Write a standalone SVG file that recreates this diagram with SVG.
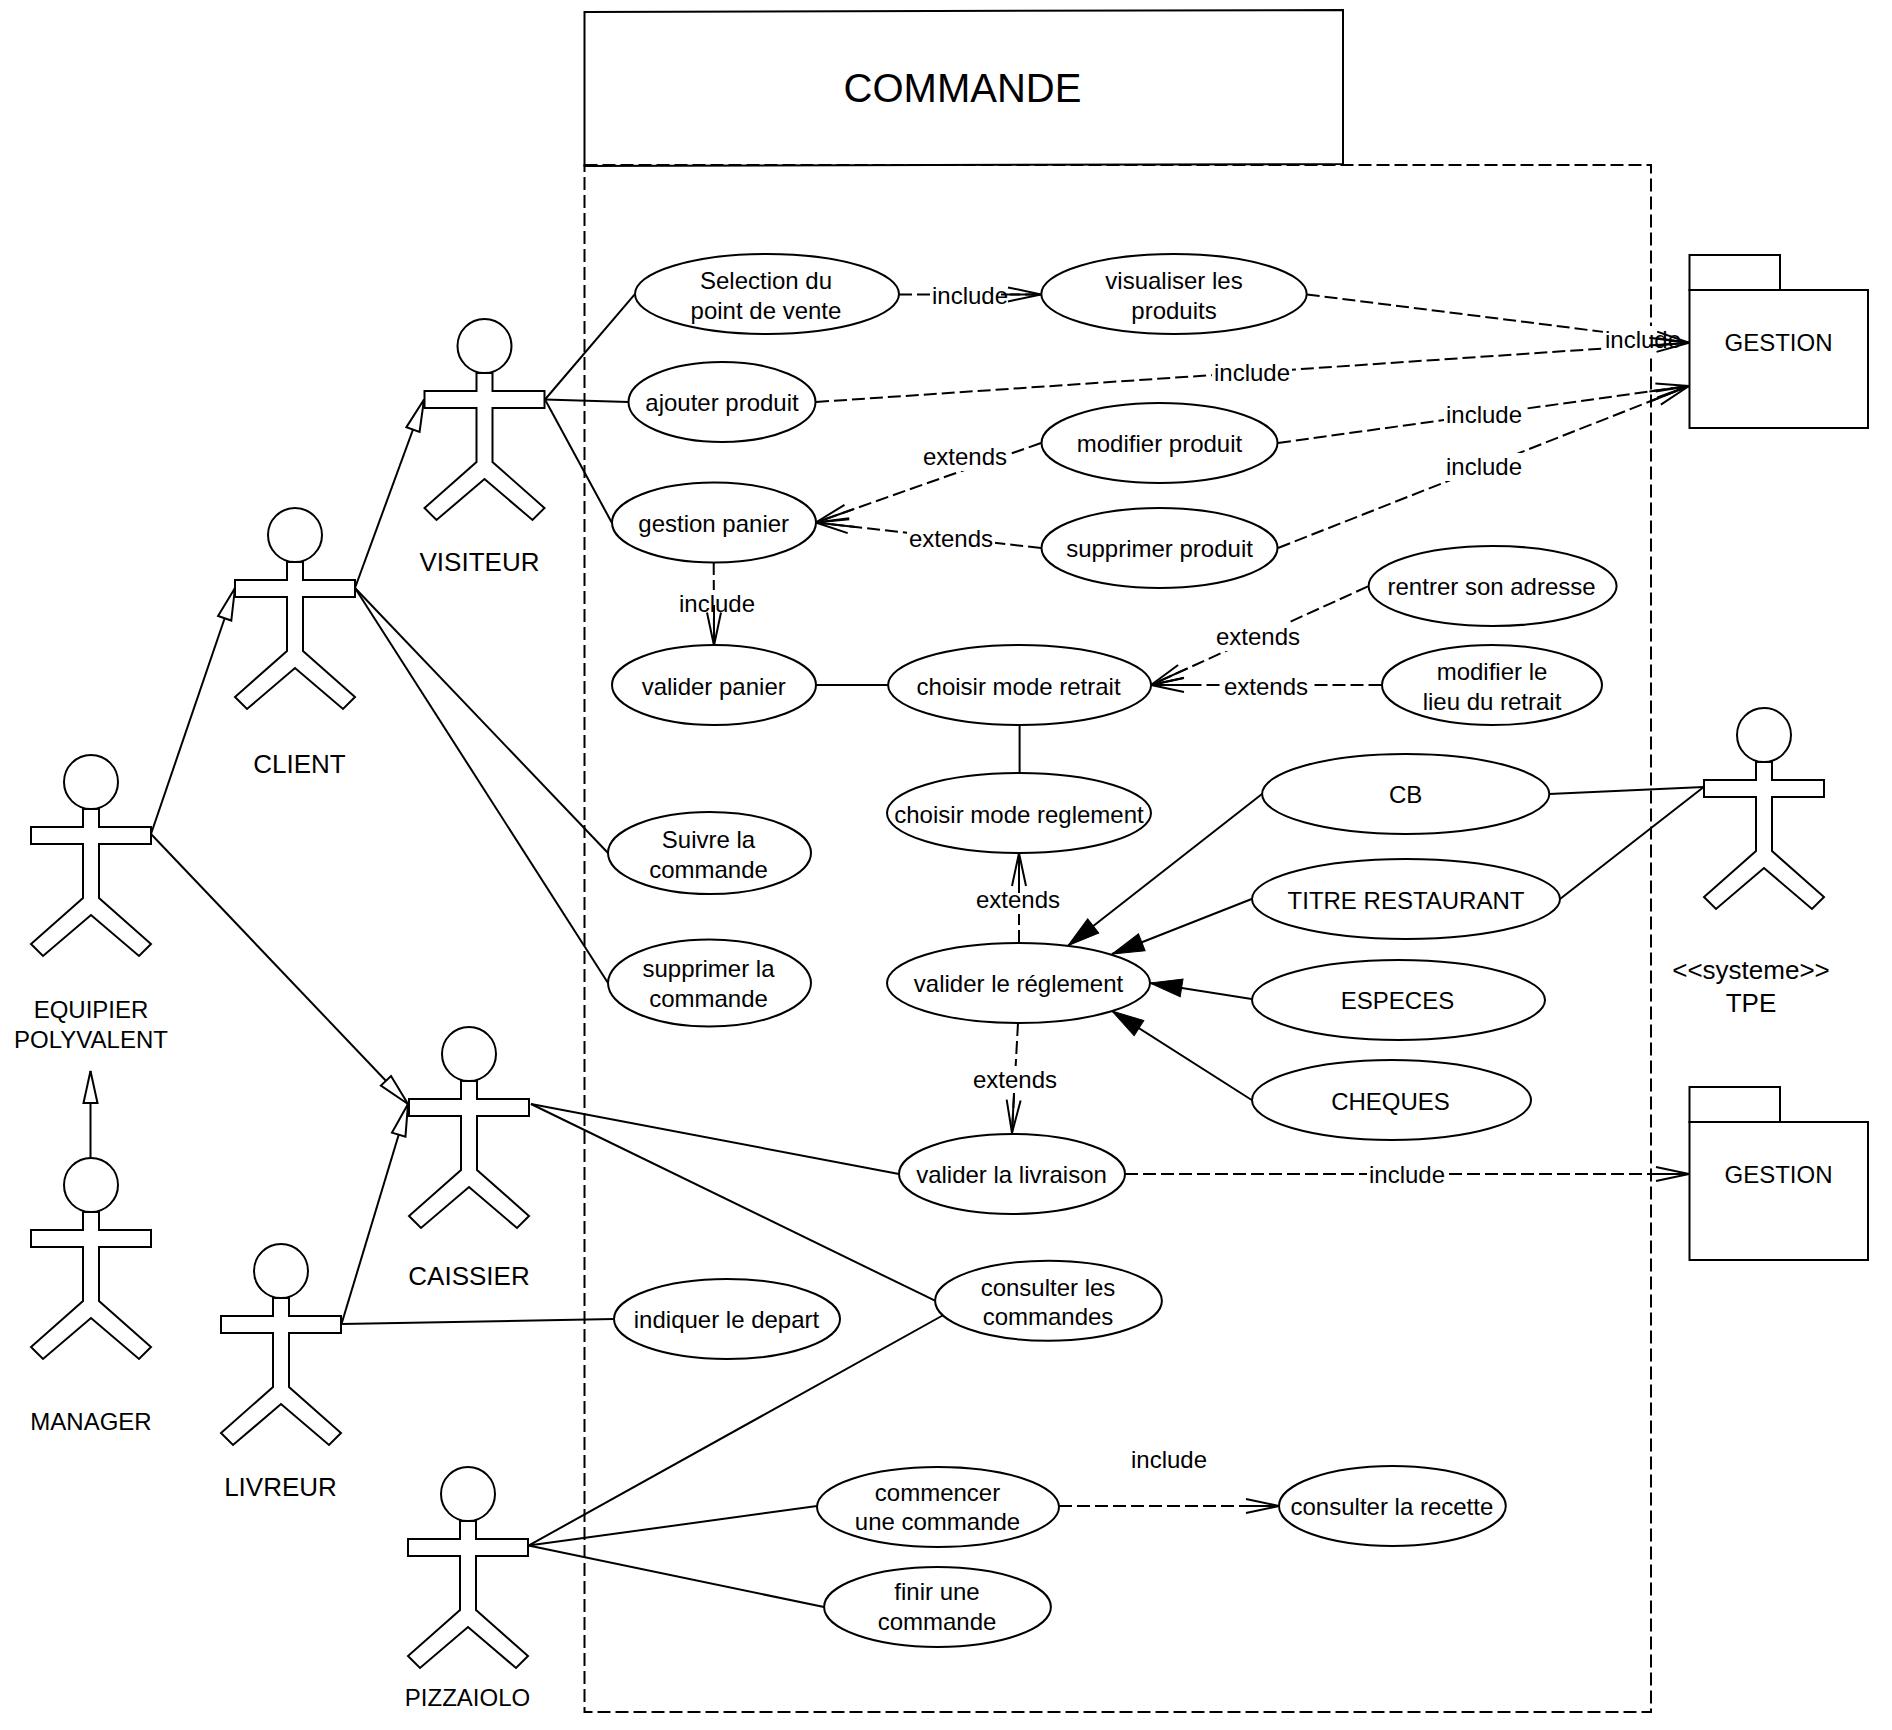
<svg xmlns="http://www.w3.org/2000/svg" xmlns:xlink="http://www.w3.org/1999/xlink" width="1892" height="1730" viewBox="0 0 1892 1730">
<style>
text{font-family:"Liberation Sans",Arial,sans-serif;font-size:24px;fill:#000;text-anchor:middle}
.title{font-size:40px}
.big{font-size:26px}
.s{fill:#fff;stroke:#000;stroke-width:2}
.n{fill:none;stroke:#000;stroke-width:2}
.d{fill:none;stroke:#000;stroke-width:2;stroke-dasharray:13 5}
.w{fill:#fff;stroke:none}
.hollow{marker-end:url(#hollow)}
.filled{marker-end:url(#filled)}
.open{marker-end:url(#open)}
</style>
<defs>
<marker id="hollow" markerUnits="userSpaceOnUse" markerWidth="40" markerHeight="24" refX="33" refY="10" orient="auto" overflow="visible"><path d="M1,3 L33,10 L1,17 Z" fill="#fff" stroke="#000" stroke-width="2"/></marker>
<marker id="filled" markerUnits="userSpaceOnUse" markerWidth="40" markerHeight="24" refX="33" refY="10" orient="auto" overflow="visible"><path d="M1,1 L33,10 L1,19 Z" fill="#000" stroke="#000" stroke-width="1"/></marker>
<marker id="open" markerUnits="userSpaceOnUse" markerWidth="40" markerHeight="24" refX="33" refY="10" orient="auto" overflow="visible"><path d="M0,3 L33,10 L0,17" fill="none" stroke="#000" stroke-width="2"/></marker>
<g id="actor">
<ellipse class="s" cx="0" cy="27" rx="27" ry="27"/>
<path class="s" d="M-8,54 V72 H-60 V89 H-8 V143 L-60,189 L-48,201 L0,160 L48,201 L60,189 L8,143 V89 H60 V72 H8 V54 Z"/>
</g>
</defs>
<rect width="1892" height="1730" fill="#fff"/>
<g id="frame">
<rect x="584.5" y="165" width="1066.5" height="1547" fill="none" stroke="#000" stroke-width="2" stroke-dasharray="13 5"/>
<path class="n" d="M584.5,12 L1343,10 V164 L584.5,166 Z"/>
<text class="title" x="962.5" y="102">COMMANDE</text>
</g>
<g id="connectors">
<line class="n" x1="545" y1="399.5" x2="634.7" y2="294.4"/>
<line class="n" x1="545" y1="399.5" x2="628.6" y2="402"/>
<line class="n" x1="545" y1="399.5" x2="611.7" y2="522.5"/>
<line class="n hollow" x1="355" y1="588" x2="424" y2="399.5"/>
<line class="n" x1="355" y1="588" x2="608" y2="853"/>
<line class="n" x1="355" y1="588" x2="608" y2="983"/>
<line class="n hollow" x1="151" y1="834" x2="235" y2="588"/>
<line class="n hollow" x1="151" y1="834" x2="408" y2="1104"/>
<line class="n hollow" x1="90.5" y1="1158" x2="90.5" y2="1071"/>
<line class="n hollow" x1="341.5" y1="1324" x2="408" y2="1104"/>
<line class="n" x1="341.5" y1="1324" x2="614" y2="1319"/>
<line class="n" x1="531" y1="1104" x2="899" y2="1174"/>
<line class="n" x1="531" y1="1104" x2="935" y2="1300.7"/>
<line class="n" x1="528.5" y1="1545.6" x2="943.5" y2="1315"/>
<line class="n" x1="528.5" y1="1545.6" x2="817" y2="1506"/>
<line class="n" x1="528.5" y1="1545.6" x2="824" y2="1607"/>
<line class="n" x1="816" y1="685" x2="888" y2="685"/>
<line class="n" x1="1019.6" y1="725" x2="1019.6" y2="773"/>
<line class="n filled" x1="1262" y1="794" x2="1068" y2="945.7"/>
<line class="n filled" x1="1251.7" y1="899" x2="1112" y2="954"/>
<line class="n filled" x1="1251.7" y1="999" x2="1150" y2="983"/>
<line class="n filled" x1="1251.7" y1="1100" x2="1112" y2="1011"/>
<line class="n" x1="1549" y1="794" x2="1703.7" y2="787"/>
<line class="n" x1="1560" y1="899" x2="1703.7" y2="787"/>
<line class="d" x1="899" y1="294.4" x2="1041" y2="294.4"/>
<line class="d" x1="1306.7" y1="294.4" x2="1689" y2="342.7"/>
<line class="d" x1="816" y1="402" x2="1689" y2="342.7"/>
<line class="d" x1="1278" y1="443" x2="1689" y2="386"/>
<line class="d" x1="1278" y1="548" x2="1689" y2="386"/>
<line class="d" x1="1041" y1="443" x2="815.7" y2="522.5"/>
<line class="d" x1="1041" y1="548" x2="815.7" y2="522.5"/>
<line class="d" x1="713.7" y1="562" x2="714" y2="645.5"/>
<line class="d" x1="1368" y1="586.4" x2="1151" y2="685"/>
<line class="d" x1="1381.5" y1="685" x2="1151" y2="685"/>
<line class="d" x1="1019" y1="943" x2="1019" y2="853"/>
<line class="d" x1="1018" y1="1023" x2="1012" y2="1133"/>
<line class="d" x1="1125" y1="1174" x2="1689" y2="1174"/>
<line class="d" x1="1059" y1="1506" x2="1279" y2="1506"/>
<g id="connector-labels">
<rect class="w" x="930" y="282" width="80" height="28"/><text x="970" y="304">include</text>
<rect class="w" x="1603" y="326" width="80" height="28"/><text x="1643" y="348">include</text>
<rect class="w" x="1212" y="359" width="80" height="28"/><text x="1252" y="381">include</text>
<rect class="w" x="1444" y="401" width="80" height="28"/><text x="1484" y="423">include</text>
<rect class="w" x="1444" y="453" width="80" height="28"/><text x="1484" y="475">include</text>
<rect class="w" x="921" y="443" width="88" height="28"/><text x="965" y="465">extends</text>
<rect class="w" x="907" y="525" width="88" height="28"/><text x="951" y="547">extends</text>
<rect class="w" x="677" y="590" width="80" height="28"/><text x="717" y="612">include</text>
<rect class="w" x="1214" y="623" width="88" height="28"/><text x="1258" y="645">extends</text>
<rect class="w" x="1222" y="673" width="88" height="28"/><text x="1266" y="695">extends</text>
<rect class="w" x="974" y="886" width="88" height="28"/><text x="1018" y="908">extends</text>
<rect class="w" x="971" y="1066" width="88" height="28"/><text x="1015" y="1088">extends</text>
<rect class="w" x="1367" y="1161" width="80" height="28"/><text x="1407" y="1183">include</text>
<text x="1169" y="1468">include</text>
</g>
<g id="connector-heads">
<line class="n open" x1="1001" y1="294.4" x2="1041" y2="294.4"/>
<line class="n open" x1="1649.3" y1="337.7" x2="1689" y2="342.7"/>
<line class="n open" x1="1649" y1="345.4" x2="1689" y2="342.7"/>
<line class="n open" x1="1649.4" y1="391.5" x2="1689" y2="386"/>
<line class="n open" x1="1651.8" y1="400.7" x2="1689" y2="386"/>
<line class="n open" x1="853.4" y1="509.2" x2="815.7" y2="522.5"/>
<line class="n open" x1="855.4" y1="527" x2="815.7" y2="522.5"/>
<line class="n open" x1="714" y1="605" x2="714" y2="645.5"/>
<line class="n open" x1="1187.4" y1="668.4" x2="1151" y2="685"/>
<line class="n open" x1="1191" y1="685" x2="1151" y2="685"/>
<line class="n open" x1="1019" y1="893" x2="1019" y2="853"/>
<line class="n open" x1="1014" y1="1093" x2="1012" y2="1133"/>
<line class="n open" x1="1649" y1="1174" x2="1689" y2="1174"/>
<line class="n open" x1="1239" y1="1506" x2="1279" y2="1506"/>
</g>
</g>
<g id="actor-visiteur"><use href="#actor" x="484.5" y="319"/><text class="big" x="479.5" y="571">VISITEUR</text></g>
<g id="actor-client"><use href="#actor" x="295" y="508"/><text class="big" x="299.5" y="773">CLIENT</text></g>
<g id="actor-equipier"><use href="#actor" x="91" y="755"/><text x="91" y="1018">EQUIPIER</text><text x="91" y="1048">POLYVALENT</text></g>
<g id="actor-manager"><use href="#actor" x="91" y="1158"/><text x="91" y="1430">MANAGER</text></g>
<g id="actor-livreur"><use href="#actor" x="281" y="1244"/><text class="big" x="280.5" y="1496">LIVREUR</text></g>
<g id="actor-caissier"><use href="#actor" x="469" y="1027"/><text class="big" x="469" y="1285">CAISSIER</text></g>
<g id="actor-pizzaiolo"><use href="#actor" x="468" y="1467"/><text x="467.5" y="1706">PIZZAIOLO</text></g>
<g id="actor-tpe"><use href="#actor" x="1764" y="708"/><text class="big" x="1751" y="979">&lt;&lt;systeme&gt;&gt;</text><text class="big" x="1751" y="1012">TPE</text></g>
<g id="uc-selection"><ellipse class="s" cx="767" cy="294" rx="132" ry="40"/><text x="766" y="289">Selection du</text><text x="766" y="319">point de vente</text></g>
<g id="uc-visualiser"><ellipse class="s" cx="1174" cy="294" rx="132.7" ry="40"/><text x="1174" y="289">visualiser les</text><text x="1174" y="319">produits</text></g>
<g id="uc-ajouter"><ellipse class="s" cx="722" cy="402" rx="93.5" ry="40"/><text x="722" y="411">ajouter produit</text></g>
<g id="uc-gestion"><ellipse class="s" cx="714" cy="522.5" rx="102" ry="40"/><text x="713.7" y="532">gestion panier</text></g>
<g id="uc-modifier"><ellipse class="s" cx="1159.5" cy="443" rx="118" ry="40"/><text x="1159.5" y="452">modifier produit</text></g>
<g id="uc-supprimer"><ellipse class="s" cx="1159.5" cy="548" rx="118" ry="40"/><text x="1159.5" y="557">supprimer produit</text></g>
<g id="uc-rentrer"><ellipse class="s" cx="1492.6" cy="586" rx="124" ry="40"/><text x="1491.6" y="595">rentrer son adresse</text></g>
<g id="uc-valider-panier"><ellipse class="s" cx="714" cy="685" rx="102" ry="40"/><text x="713.7" y="695">valider panier</text></g>
<g id="uc-retrait"><ellipse class="s" cx="1019.6" cy="685" rx="131.5" ry="40"/><text x="1018.6" y="695">choisir mode retrait</text></g>
<g id="uc-lieu"><ellipse class="s" cx="1492" cy="685" rx="110" ry="40"/><text x="1492" y="680">modifier le</text><text x="1492" y="710">lieu du retrait</text></g>
<g id="uc-reglement"><ellipse class="s" cx="1019" cy="813" rx="132" ry="40"/><text x="1019" y="823">choisir mode reglement</text></g>
<g id="uc-valider-reglement"><ellipse class="s" cx="1018.5" cy="983" rx="131.5" ry="40"/><text x="1018.5" y="992">valider le réglement</text></g>
<g id="uc-livraison"><ellipse class="s" cx="1012" cy="1174" rx="113" ry="40"/><text x="1011.5" y="1183">valider la livraison</text></g>
<g id="uc-cb"><ellipse class="s" cx="1405.7" cy="794" rx="143.6" ry="40"/><text x="1405.7" y="803">CB</text></g>
<g id="uc-titre"><ellipse class="s" cx="1406" cy="899" rx="154" ry="40"/><text x="1406" y="909">TITRE RESTAURANT</text></g>
<g id="uc-especes"><ellipse class="s" cx="1398.5" cy="1000" rx="146.5" ry="40"/><text x="1397.5" y="1009">ESPECES</text></g>
<g id="uc-cheques"><ellipse class="s" cx="1391.5" cy="1100" rx="139.5" ry="40"/><text x="1390.5" y="1110">CHEQUES</text></g>
<g id="uc-suivre"><ellipse class="s" cx="709.5" cy="853" rx="101.5" ry="41"/><text x="708.5" y="848">Suivre la</text><text x="708.5" y="878">commande</text></g>
<g id="uc-supprimer-commande"><ellipse class="s" cx="709.5" cy="983" rx="101.5" ry="43.5"/><text x="708.5" y="977">supprimer la</text><text x="708.5" y="1007">commande</text></g>
<g id="uc-consulter"><ellipse class="s" cx="1048.5" cy="1300.7" rx="113.4" ry="40"/><text x="1048" y="1296">consulter les</text><text x="1048" y="1325">commandes</text></g>
<g id="uc-indiquer"><ellipse class="s" cx="727" cy="1319" rx="113" ry="40"/><text x="726.5" y="1328">indiquer le depart</text></g>
<g id="uc-commencer"><ellipse class="s" cx="938" cy="1507" rx="121" ry="40"/><text x="937.5" y="1501">commencer</text><text x="937.5" y="1530">une commande</text></g>
<g id="uc-recette"><ellipse class="s" cx="1392.4" cy="1506" rx="113.4" ry="40"/><text x="1391.9" y="1515">consulter la recette</text></g>
<g id="uc-finir"><ellipse class="s" cx="937.5" cy="1607" rx="113.4" ry="40"/><text x="937" y="1600">finir une</text><text x="937" y="1630">commande</text></g>
<g id="pkg-gestion-1"><rect class="s" x="1689.5" y="255" width="90.5" height="35"/><rect class="s" x="1689.5" y="290" width="178.5" height="138"/><text x="1778.5" y="351">GESTION</text></g>
<g id="pkg-gestion-2"><rect class="s" x="1689.5" y="1087" width="90.5" height="35"/><rect class="s" x="1689.5" y="1122" width="178.5" height="138"/><text x="1778.5" y="1183">GESTION</text></g>
</svg>
